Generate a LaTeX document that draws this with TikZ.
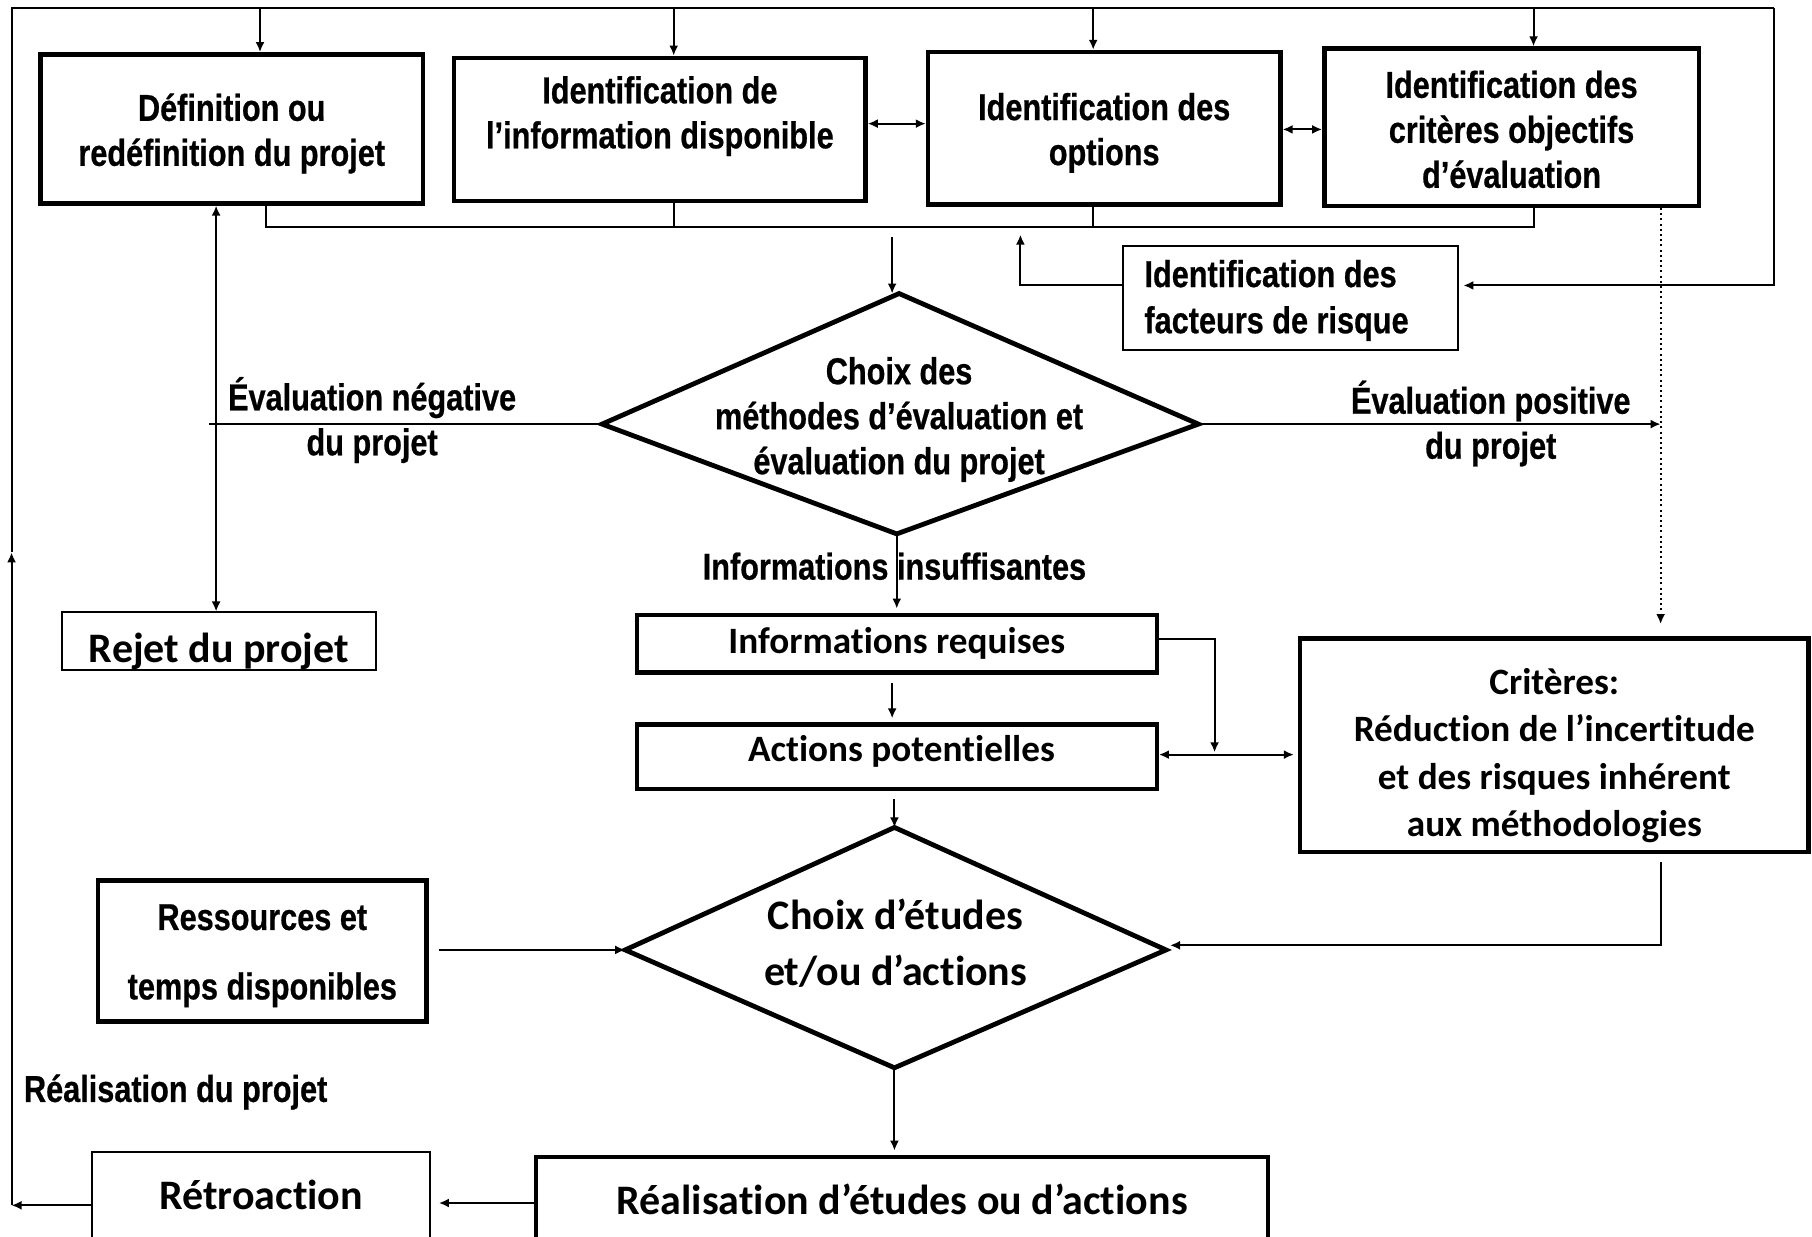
\documentclass[tikz,border=0pt]{standalone}
\usepackage{fontspec}
\newfontfamily\nar{Liberation Sans}[FakeStretch=0.82,FakeBold=0.6]
\newfontfamily\calib{Carlito}[Ligatures=NoCommon]
\usetikzlibrary{arrows.meta}
\begin{document}
\begin{tikzpicture}[x=0.5778pt,y=-0.5778pt,
  wh/.style 2 args={minimum width={#1*0.5778pt},minimum height={#2*0.5778pt}},
  thickbox/.style={draw, line width=2.2pt, rectangle, inner sep=0pt},
  thinbox/.style={draw, line width=1pt, rectangle, inner sep=0pt},
  nt/.style={font=\nar\bfseries\fontsize{18.7pt}{22.5pt}\selectfont, align=center, inner sep=0pt},
  ct/.style={font=\calib\bfseries\fontsize{18.6pt}{23.7pt}\selectfont, align=center, inner sep=0pt},
  cb/.style={font=\calib\bfseries\fontsize{21pt}{27.7pt}\selectfont, align=center, inner sep=0pt},
  con/.style={line width=1pt},
  tip/.tip={Latex[length=5pt,width=4.5pt]},
  arr/.style={con, -tip},
  darr/.style={con, tip-tip},
  dia/.style={line width=2.4pt, line join=miter},
]
\useasboundingbox (0,0) rectangle (1568,1070);

% ---- top row boxes
\node[thickbox, wh={331}{129}] (b1) at (200.5,111.5) {};
\node[nt] (b1t) at (200.5,115.5) {Définition ou\\redéfinition du projet};
\node[thickbox, wh={356}{124}] (b2) at (571,112) {};
\node[nt] (b2t) at (571,100.5) {Identification de\\l’information disponible};
\node[thickbox, wh={305}{132}] (b3) at (955.5,111) {};
\node[nt] (b3t) at (955.5,115) {Identification des\\options};
\node[thickbox, wh={324}{136}] (b4) at (1308,110) {};
\node[nt] (b4t) at (1308,112) {Identification des\\critères objectifs\\d’évaluation};

% ---- risk box
\node[thinbox, wh={290}{90}] (risk) at (1117,258) {};
\node[nt, align=left, anchor=west, font=\nar\bfseries\fontsize{18.7pt}{23.1pt}\selectfont] (riskt) at (990,260) {Identification des\\facteurs de risque};

% ---- diamond 1
\coordinate (d1t) at (778,254);
\coordinate (d1l) at (521,367);
\coordinate (d1r) at (1037,367);
\coordinate (d1b) at (776,462);
\draw[dia] (d1t) -- (d1r) -- (d1b) -- (d1l) -- cycle;
\node[nt] (d1x) at (778,363) {Choix des\\méthodes d’évaluation et\\évaluation du projet};

\node[nt] (negl) at (322,363.5) {Évaluation négative\\du projet};
\node[nt] (posl) at (1290,366.5) {Évaluation positive\\du projet};

\node[thinbox, wh={271}{50}] (rej) at (189.5,555) {};
\node[cb] (rejt) at (189.5,564) {Rejet du projet};
\node[nt] (insuf) at (774,490) {Informations insuffisantes};

\node[thickbox, wh={450}{50}, ct] (ir) at (776,557) {Informations requises};
\node[thickbox, wh={450}{56}] (ap) at (776,655) {};
\node[ct] (apt) at (780,650) {Actions potentielles};
\node[thickbox, wh={440}{185}] (crit) at (1345,645) {};
\node[ct] (critt) at (1345,654) {Critères:\\Réduction de l’incertitude\\et des risques inhérent\\aux méthodologies};

% ---- diamond 2
\coordinate (d2t) at (774,716);
\coordinate (d2l) at (541,822);
\coordinate (d2r) at (1009,822);
\coordinate (d2b) at (774,924);
\draw[dia] (d2t) -- (d2r) -- (d2b) -- (d2l) -- cycle;
\node[cb] (d2x) at (775,816) {Choix d’études\\et/ou d’actions};

\node[thickbox, wh={284}{122}] (res) at (227,823) {};
\node[nt, font=\nar\bfseries\fontsize{18.7pt}{34.7pt}\selectfont] (rest) at (227,827) {Ressources et\\temps disponibles};
\node[thickbox, wh={633}{74}, cb] (real) at (780.5,1038) {Réalisation d’études ou d’actions};
\node[thinbox, wh={292}{80}] (retro) at (226,1037) {};
\node[cb] (retrot) at (226,1034) {Rétroaction};
\node[nt] (realp) at (152,945) {Réalisation du projet};

% ---- outer frame
\coordinate (tl) at (10,7);
\coordinate (tr) at (1535,7);
\coordinate (bl) at (10,1043);
\coordinate (blm) at (10,478);
\coordinate (rr) at (1535,247);
\draw[arr] (retro.west |- bl) -- (bl);
\draw[arr] (bl) -- (blm);
\draw[con] (blm) -- (tl) -- (tr);
\draw[arr] (tr) -- (rr) -- ([xshift=2pt]rr -| risk.east);

% ---- top arrows
\coordinate (t1) at (225,7);
\coordinate (t2) at (583,7);
\coordinate (t3) at (946,7);
\coordinate (t4) at (1327,7);
\draw[arr] (t1) -- (t1 |- b1.north);
\draw[arr] (t2) -- (t2 |- b2.north);
\draw[arr] (t3) -- (t3 |- b3.north);
\draw[arr] (t4) -- (t4 |- b4.north);

% ---- bottom bus
\coordinate (s1) at (230,196);
\coordinate (s2) at (583,196);
\coordinate (s3) at (946,196);
\coordinate (s4) at (1327,196);
\draw[con] (s1 |- b1.south) -- (s1) -- (s4) -- (s4 |- b4.south);
\draw[con] (s2 |- b2.south) -- (s2);
\draw[con] (s3 |- b3.south) -- (s3);
\coordinate (busd) at (772,205);
\draw[arr] (busd) -- (busd |- d1t);

% ---- risk loop
\coordinate (rk) at (883,247);
\coordinate (rku) at (883,203);
\draw[arr] (risk.west |- rk) -- (rk) -- (rku);

% ---- double arrows top
\draw[darr] (b2.east |- 0,107) -- (b3.west |- 0,107);
\draw[darr] (b3.east |- 0,112) -- (b4.west |- 0,112);

% ---- evaluation branches
\coordinate (negend) at (181,367);
\draw[con] (d1l) -- (negend);
\draw[darr] (b1.south -| 187,0) -- (rej.north -| 187,0);
\coordinate (posend) at (1437,367);
\draw[arr] (d1r) -- (posend);
\coordinate (dotend) at (1437,540);
\draw[arr, dash pattern=on 1pt off 1.6pt] (b4.south -| dotend) -- (dotend);

% ---- middle column
\draw[arr, shorten >=2pt] (d1b) -- (d1b |- ir.north);
\draw[arr, shorten <=4pt, shorten >=2pt] (ir.south -| 772,0) -- (ap.north -| 772,0);
\coordinate (irc) at (1051,553);
\coordinate (irend) at (1051,651);
\draw[arr] (ir.east |- irc) -- (irc) -- (irend);
\draw[darr, shorten >=2pt] (ap.east |- 0,653) -- (crit.west |- 0,653);
\draw[arr, shorten <=4pt] (ap.south -| d2t) -- (d2t);
\coordinate (cc) at (1437,818);
\draw[arr, shorten <=4pt] (crit.south -| cc) -- (cc) -- ([xshift=2pt]cc -| d2r);
\draw[arr, shorten <=5pt] (res.east |- d2l) -- (d2l);
\draw[arr, shorten >=2pt] (d2b) -- (d2b |- real.north);
\draw[arr, shorten >=4pt] (real.west |- 0,1041) -- (retro.east |- 0,1041);
\end{tikzpicture}
\end{document}
